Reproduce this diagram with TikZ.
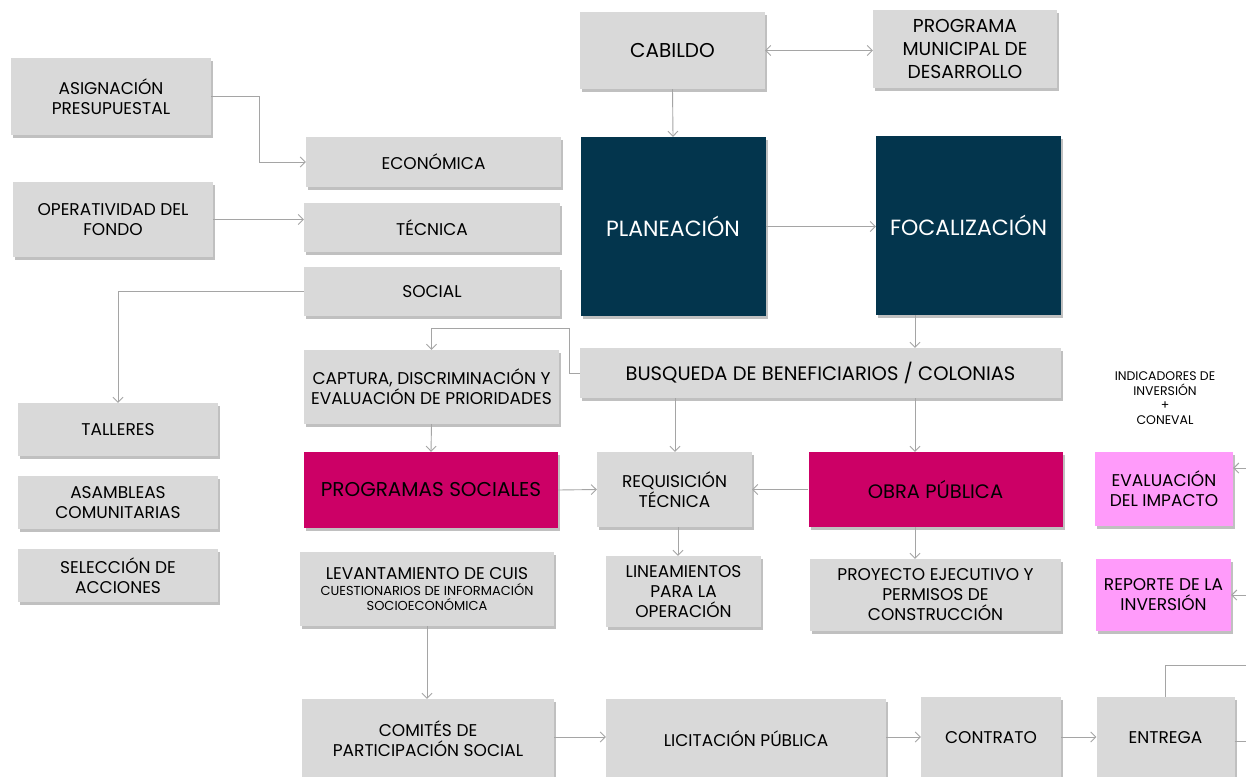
\documentclass[tikz,border=0pt]{standalone}
\usepackage{fontspec}
\setmainfont{Poppins}
\usetikzlibrary{arrows.meta,shadows}
\definecolor{boxgray}{RGB}{217,217,217}
\definecolor{navyblue}{RGB}{3,53,77}
\definecolor{obramag}{RGB}{204,0,102}
\definecolor{evalpink}{RGB}{255,155,250}
\definecolor{linkgray}{RGB}{165,165,165}
\newcommand{\txtbox}{\fontsize{17}{20}\selectfont}
\newcommand{\txtbig}{\fontsize{19.5}{23}\selectfont}
\newcommand{\txtsmall}{\fontsize{12.5}{14.5}\selectfont}

\begin{document}
\begin{tikzpicture}[x=1pt,y=-1pt,>={Straight Barb[length=5pt,width=10pt]},
  box/.style={rectangle,inner sep=0pt,align=center,font=\txtbox,text=black,
    drop shadow={shadow xshift=2pt,shadow yshift=-3pt,opacity=0.35,fill=black!70}},
  graybox/.style={box,fill=boxgray},
  navybox/.style={box,fill=navyblue,text=white,font=\fontsize{22}{26}\selectfont},
  magbox/.style={box,fill=obramag,font=\txtbig},
  pinkbox/.style={box,fill=evalpink},
  link/.style={draw=linkgray,line width=0.9pt,->}]
  % Frame
  \useasboundingbox (0,0) rectangle (1246,776);
  \clip (0,0) rectangle (1246,776);
  \fill[white] (0,0) rectangle (1246,776);
  %
  % Left column
  \node[graybox,minimum width=200pt,minimum height=77pt] (asig) at (111,96.5) {ASIGNACIÓN\\PRESUPUESTAL};
  \node[graybox,minimum width=200pt,minimum height=75pt] (oper) at (113,219.5) {OPERATIVIDAD DEL\\FONDO};
  \node[graybox,minimum width=255pt,minimum height=50pt] (eco) at (433.5,162) {ECONÓMICA};
  \node[graybox,minimum width=256pt,minimum height=49pt] (tec) at (432,227.5) {TÉCNICA};
  \node[graybox,minimum width=256pt,minimum height=49pt] (soc) at (432,291.5) {SOCIAL};
  \node[graybox,minimum width=200pt,minimum height=53pt] (tall) at (118,429.5) {TALLERES};
  \node[graybox,minimum width=200pt,minimum height=53pt] (asam) at (118,502.5) {ASAMBLEAS\\COMUNITARIAS};
  \node[graybox,minimum width=200pt,minimum height=53pt] (sel) at (118,575.5) {SELECCIÓN DE\\ACCIONES};
  %
  % Top row
  \node[graybox,minimum width=185pt,minimum height=77pt,font=\fontsize{20}{23}\selectfont] (cab) at (672.5,50.5) {CABILDO};
  \node[graybox,minimum width=184pt,minimum height=78pt,font=\fontsize{18.7}{23}\selectfont] (pmd) at (965,49) {PROGRAMA\\MUNICIPAL DE\\DESARROLLO};
  \node[navybox,minimum width=185pt,minimum height=179pt] (plan) at (673,226.5) {PLANEACIÓN};
  \node[navybox,minimum width=185pt,minimum height=179pt] (foc) at (968.5,225.5) {FOCALIZACIÓN};
  %
  % Middle rows
  \node[graybox,minimum width=255pt,minimum height=74pt] (capt) at (431.5,387) {CAPTURA, DISCRIMINACIÓN Y\\EVALUACIÓN DE PRIORIDADES};
  \node[graybox,minimum width=481pt,minimum height=50pt,font=\txtbig] (busq) at (820.5,373) {BUSQUEDA DE BENEFICIARIOS / COLONIAS};
  \node[magbox,minimum width=254pt,minimum height=76pt,font=\fontsize{20}{23}\selectfont] (prog) at (431,490) {PROGRAMAS SOCIALES};
  \node[graybox,minimum width=155pt,minimum height=75pt] (req) at (674.5,489.5) {REQUISICIÓN\\TÉCNICA};
  \node[magbox,minimum width=254pt,minimum height=75pt] (obra) at (935.5,489.5) {OBRA PÚBLICA};
  \node[pinkbox,minimum width=138pt,minimum height=74pt] (eval) at (1164,489) {EVALUACIÓN\\DEL IMPACTO};
  \node[align=center,font=\txtsmall,inner sep=0pt] (ind) at (1165,398) {INDICADORES DE\\INVERSIÓN\\+\\CONEVAL};
  \node[graybox,minimum width=254pt,minimum height=74pt] (lev) at (427,589) {LEVANTAMIENTO DE CUIS\\[-4pt]{\fontsize{13}{15}\selectfont CUESTIONARIOS DE INFORMACIÓN}\\[-5pt]{\fontsize{13}{15}\selectfont SOCIOECONÓMICA}};
  \node[graybox,minimum width=155pt,minimum height=71pt] (lin) at (683.5,591.5) {LINEAMIENTOS\\PARA LA\\OPERACIÓN};
  \node[graybox,minimum width=251pt,minimum height=72pt] (proy) at (935.5,595) {PROYECTO EJECUTIVO Y\\PERMISOS DE\\CONSTRUCCIÓN};
  \node[pinkbox,minimum width=135pt,minimum height=72pt] (rep) at (1163.5,595) {REPORTE DE LA\\INVERSIÓN};
  %
  % Bottom row
  \node[graybox,minimum width=252pt,minimum height=80pt] (com) at (428,739) {COMITÉS DE\\PARTICIPACIÓN SOCIAL};
  \node[graybox,minimum width=280pt,minimum height=80pt] (lic) at (746,739) {LICITACIÓN PÚBLICA};
  \node[graybox,minimum width=140pt,minimum height=82pt] (cont) at (991,738) {CONTRATO};
  \node[graybox,minimum width=138pt,minimum height=82pt] (ent) at (1165.5,738) {ENTREGA};
  %
  % Loose ends at the right margin
  \coordinate (evin) at (1246,468);
  \coordinate (repin) at (1246,595);
  \coordinate (entup) at (1246,665);
  \coordinate (entout) at (1246,741);
  %
  % Connectors
  \draw[link] (asig.east) -- ++(48,0) |- (eco.west);
  \draw[link] (oper.east) -- (oper.east -| tec.west);
  \draw[link] (soc.west) -| (tall.north);
  \draw[link,<->] (cab.east) -- (pmd.west |- cab.east);
  \draw[link] (cab.south) -- (plan.north);
  \draw[link] (plan.east) -- (foc.west |- plan.east);
  \draw[link] (915,0 |- foc.south) -- (915,0 |- busq.north);
  \draw[link] (busq.west) -- ++(-10,0) |- ++(0,-45) -| (capt.north);
  \draw[link] (capt.south) -- (prog.north);
  \draw[link] (675,0 |- busq.south) -- (675,0 |- req.north);
  \draw[link] (915,0 |- busq.south) -- (915,0 |- obra.north);
  \draw[link] (prog.east) -- (req.west);
  \draw[link] (obra.west) -- (req.east);
  \draw[link] (678,0 |- req.south) -- (678,0 |- lin.north);
  \draw[link] (915,0 |- obra.south) -- (915,0 |- proy.north);
  \draw[link] (lev.south) -- (lev.south |- com.north);
  \draw[link] (com.east |- 0,737) -- (lic.west |- 0,737);
  \draw[link] (lic.east |- 0,737) -- (cont.west |- 0,737);
  \draw[link] (cont.east |- 0,737) -- (ent.west |- 0,737);
  \draw[link,-] (ent.east |- entout) -- (entout);
  \draw[link,-] (ent.north) |- (entup);
  \draw[link] (evin) -- (evin -| eval.east);
  \draw[link] (repin) -- (repin -| rep.east);
\end{tikzpicture}
\end{document}
